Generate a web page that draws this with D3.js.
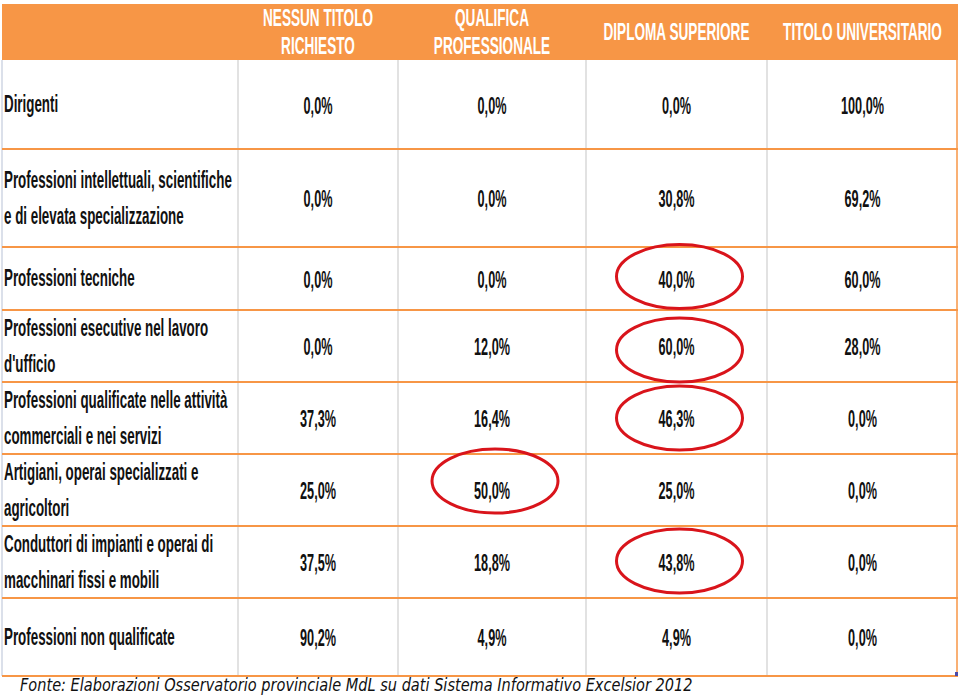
<!DOCTYPE html>
<html>
<head>
<meta charset="utf-8">
<script src="https://cdn.jsdelivr.net/npm/d3@7"></script>
<style>
  html, body { margin: 0; padding: 0; background: #ffffff; }
  svg { display: block; }
</style>
</head>
<body>
<svg id="chart" width="960" height="695"></svg>
<script>
// ---------------- DATA ----------------
const categories = [
  ["Dirigenti"],
  ["Professioni intellettuali, scientifiche", "e di elevata specializzazione"],
  ["Professioni tecniche"],
  ["Professioni esecutive nel lavoro", "d'ufficio"],
  ["Professioni qualificate nelle attività", "commerciali e nei servizi"],
  ["Artigiani, operai specializzati e", "agricoltori"],
  ["Conduttori di impianti e operai di", "macchinari fissi e mobili"],
  ["Professioni non qualificate"]
];
const columnHeaders = [
  ["NESSUN TITOLO", "RICHIESTO"],
  ["QUALIFICA", "PROFESSIONALE"],
  ["DIPLOMA SUPERIORE"],
  ["TITOLO UNIVERSITARIO"]
];
const nessunTitolo   = [0.0, 0.0, 0.0, 0.0, 37.3, 25.0, 37.5, 90.2];
const qualificaProf  = [0.0, 0.0, 0.0, 12.0, 16.4, 50.0, 18.8, 4.9];
const diplomaSup     = [0.0, 30.8, 40.0, 60.0, 46.3, 25.0, 43.8, 4.9];
const titoloUniv     = [100.0, 69.2, 60.0, 28.0, 0.0, 0.0, 0.0, 0.0];
const series = [nessunTitolo, qualificaProf, diplomaSup, titoloUniv];
// highlighted cells: [row index, value column index]
const highlights = [[2, 2], [3, 2], [4, 2], [5, 1], [6, 2]];
const sourceNote = "Fonte: Elaborazioni Osservatorio provinciale MdL su dati Sistema Informativo Excelsior 2012";

// ---------------- LAYOUT ----------------
const colEdges = [2, 238, 398, 586, 767, 958];   // label col + 4 value cols
const rowEdges = [4, 60, 149, 247, 310, 382, 454, 526, 598, 676]; // header + 8 rows
const highlightNudgeY = [-2, 4, 0, -9, -1];       // hand-drawn ellipse offsets
const orange = "#f79646";
const gridGray = "#d9d9d9";
const textColor = "#111111";

const colKeys = ["label", "c0", "c1", "c2", "c3"];
const rowKeys = ["header"].concat(categories.map((d, i) => "r" + i));
const xLeft = d3.scaleOrdinal().domain(colKeys).range(colEdges.slice(0, -1));
const xRight = d3.scaleOrdinal().domain(colKeys).range(colEdges.slice(1));
const yTop = d3.scaleOrdinal().domain(rowKeys).range(rowEdges.slice(0, -1));
const yBot = d3.scaleOrdinal().domain(rowKeys).range(rowEdges.slice(1));
const xMid = k => (xLeft(k) + xRight(k)) / 2;
const yMid = k => (yTop(k) + yBot(k)) / 2;

const locale = d3.formatLocale({decimal: ",", thousands: ".", grouping: [3], currency: ["", "€"]});
const fmt = v => locale.format(".1f")(v) + "%";

const svg = d3.select("#chart");

// header background
svg.append("rect")
  .attr("x", colEdges[0]).attr("y", yTop("header"))
  .attr("width", colEdges[colEdges.length - 1] - colEdges[0])
  .attr("height", yBot("header") - yTop("header"))
  .attr("fill", orange);

// vertical grid lines (gray)
svg.append("g").selectAll("line")
  .data(colKeys.slice(1))
  .join("line")
  .attr("x1", d => xLeft(d)).attr("x2", d => xLeft(d))
  .attr("y1", yBot("header")).attr("y2", rowEdges[rowEdges.length - 1])
  .attr("stroke", gridGray).attr("stroke-width", 1.5);

// left border
svg.append("line")
  .attr("x1", colEdges[0]).attr("x2", colEdges[0])
  .attr("y1", yBot("header")).attr("y2", rowEdges[rowEdges.length - 1])
  .attr("stroke", "#cfd6e3").attr("stroke-width", 1.5);
// right border (orange)
svg.append("line")
  .attr("x1", colEdges[5] - 1).attr("x2", colEdges[5] - 1)
  .attr("y1", yBot("header")).attr("y2", rowEdges[rowEdges.length - 1])
  .attr("stroke", orange).attr("stroke-width", 1.5);

// horizontal row lines (orange)
svg.append("g").selectAll("line")
  .data(rowKeys.slice(1))
  .join("line")
  .attr("x1", colEdges[0]).attr("x2", colEdges[5])
  .attr("y1", d => yBot(d)).attr("y2", d => yBot(d))
  .attr("stroke", orange).attr("stroke-width", 2);

// tiny resize handle in corner
svg.append("rect")
  .attr("x", colEdges[5] - 3).attr("y", rowEdges[rowEdges.length - 1] - 4)
  .attr("width", 3).attr("height", 4).attr("fill", "#4a4aa8");

const labelFont = "'Liberation Sans Narrow', 'Liberation Sans', Arial, sans-serif";

// header texts
const headG = svg.append("g");
columnHeaders.forEach((lines, i) => {
  const k = "c" + i;
  const cy = yMid("header") + 0.5;
  const step = 28;
  lines.forEach((t, j) => {
    headG.append("text")
      .attr("class", "hdr")
      .attr("data-x", xMid(k))
      .attr("data-y", cy + (j - (lines.length - 1) / 2) * step)
      .attr("text-anchor", "middle")
      .attr("dominant-baseline", "central")
      .attr("font-family", labelFont)
      .attr("font-weight", "bold")
      .attr("font-size", 23)
      .attr("fill", "#ffffff")
      .text(t);
  });
});

// row labels
const labG = svg.append("g");
categories.forEach((lines, i) => {
  const k = "r" + i;
  const cy = yMid(k);
  const step = 35.5;
  lines.forEach((t, j) => {
    labG.append("text")
      .attr("class", "lab")
      .attr("data-x", xLeft("label") + 2)
      .attr("data-y", cy + (j - (lines.length - 1) / 2) * step)
      .attr("dominant-baseline", "central")
      .attr("font-family", labelFont)
      .attr("font-weight", "bold")
      .attr("font-size", 23)
      .attr("fill", textColor)
      .text(t);
  });
});

// values
const valG = svg.append("g");
series.forEach((vals, ci) => {
  const k = "c" + ci;
  vals.forEach((v, ri) => {
    valG.append("text")
      .attr("class", "val")
      .attr("data-x", xMid(k))
      .attr("data-y", yMid("r" + ri) + 1)
      .attr("text-anchor", "middle")
      .attr("dominant-baseline", "central")
      .attr("font-family", labelFont)
      .attr("font-weight", "bold")
      .attr("font-size", 23)
      .attr("fill", textColor)
      .text(fmt(v));
  });
});

// highlight ellipses
svg.append("g").selectAll("ellipse")
  .data(highlights)
  .join("ellipse")
  .attr("cx", d => xMid("c" + d[1]) + 3)
  .attr("cy", (d, i) => yMid("r" + d[0]) + highlightNudgeY[i])
  .attr("rx", 63)
  .attr("ry", 32)
  .attr("fill", "none")
  .attr("stroke", "#d9141b")
  .attr("stroke-width", 3);

// source note
svg.append("text")
  .attr("class", "src")
  .attr("data-x", 20)
  .attr("data-y", 685)
  .attr("dominant-baseline", "central")
  .attr("font-family", "'DejaVu Sans', Verdana, sans-serif")
  .attr("font-style", "italic")
  .attr("font-size", 17.5)
  .attr("fill", "#111")
  .text(sourceNote);

// horizontal compression to match the condensed look of the reference
function compress(cls, refText, targetWidth) {
  const nodes = svg.selectAll("text." + cls);
  let ref = null;
  nodes.each(function () { if (this.textContent === refText) ref = this; });
  if (!ref) ref = nodes.node();
  const w = ref.getComputedTextLength();
  const f = w > 0 ? targetWidth / w : 1;
  nodes.each(function () {
    const s = d3.select(this);
    s.attr("transform", `translate(${+s.attr("data-x")},${+s.attr("data-y")}) scale(${f},1)`);
  });
}
compress("lab", "Professioni intellettuali, scientifiche", 228);
compress("val", "100,0%", 43);
compress("hdr", "TITOLO UNIVERSITARIO", 159);
compress("src", sourceNote, 673);
</script>
</body>
</html>
